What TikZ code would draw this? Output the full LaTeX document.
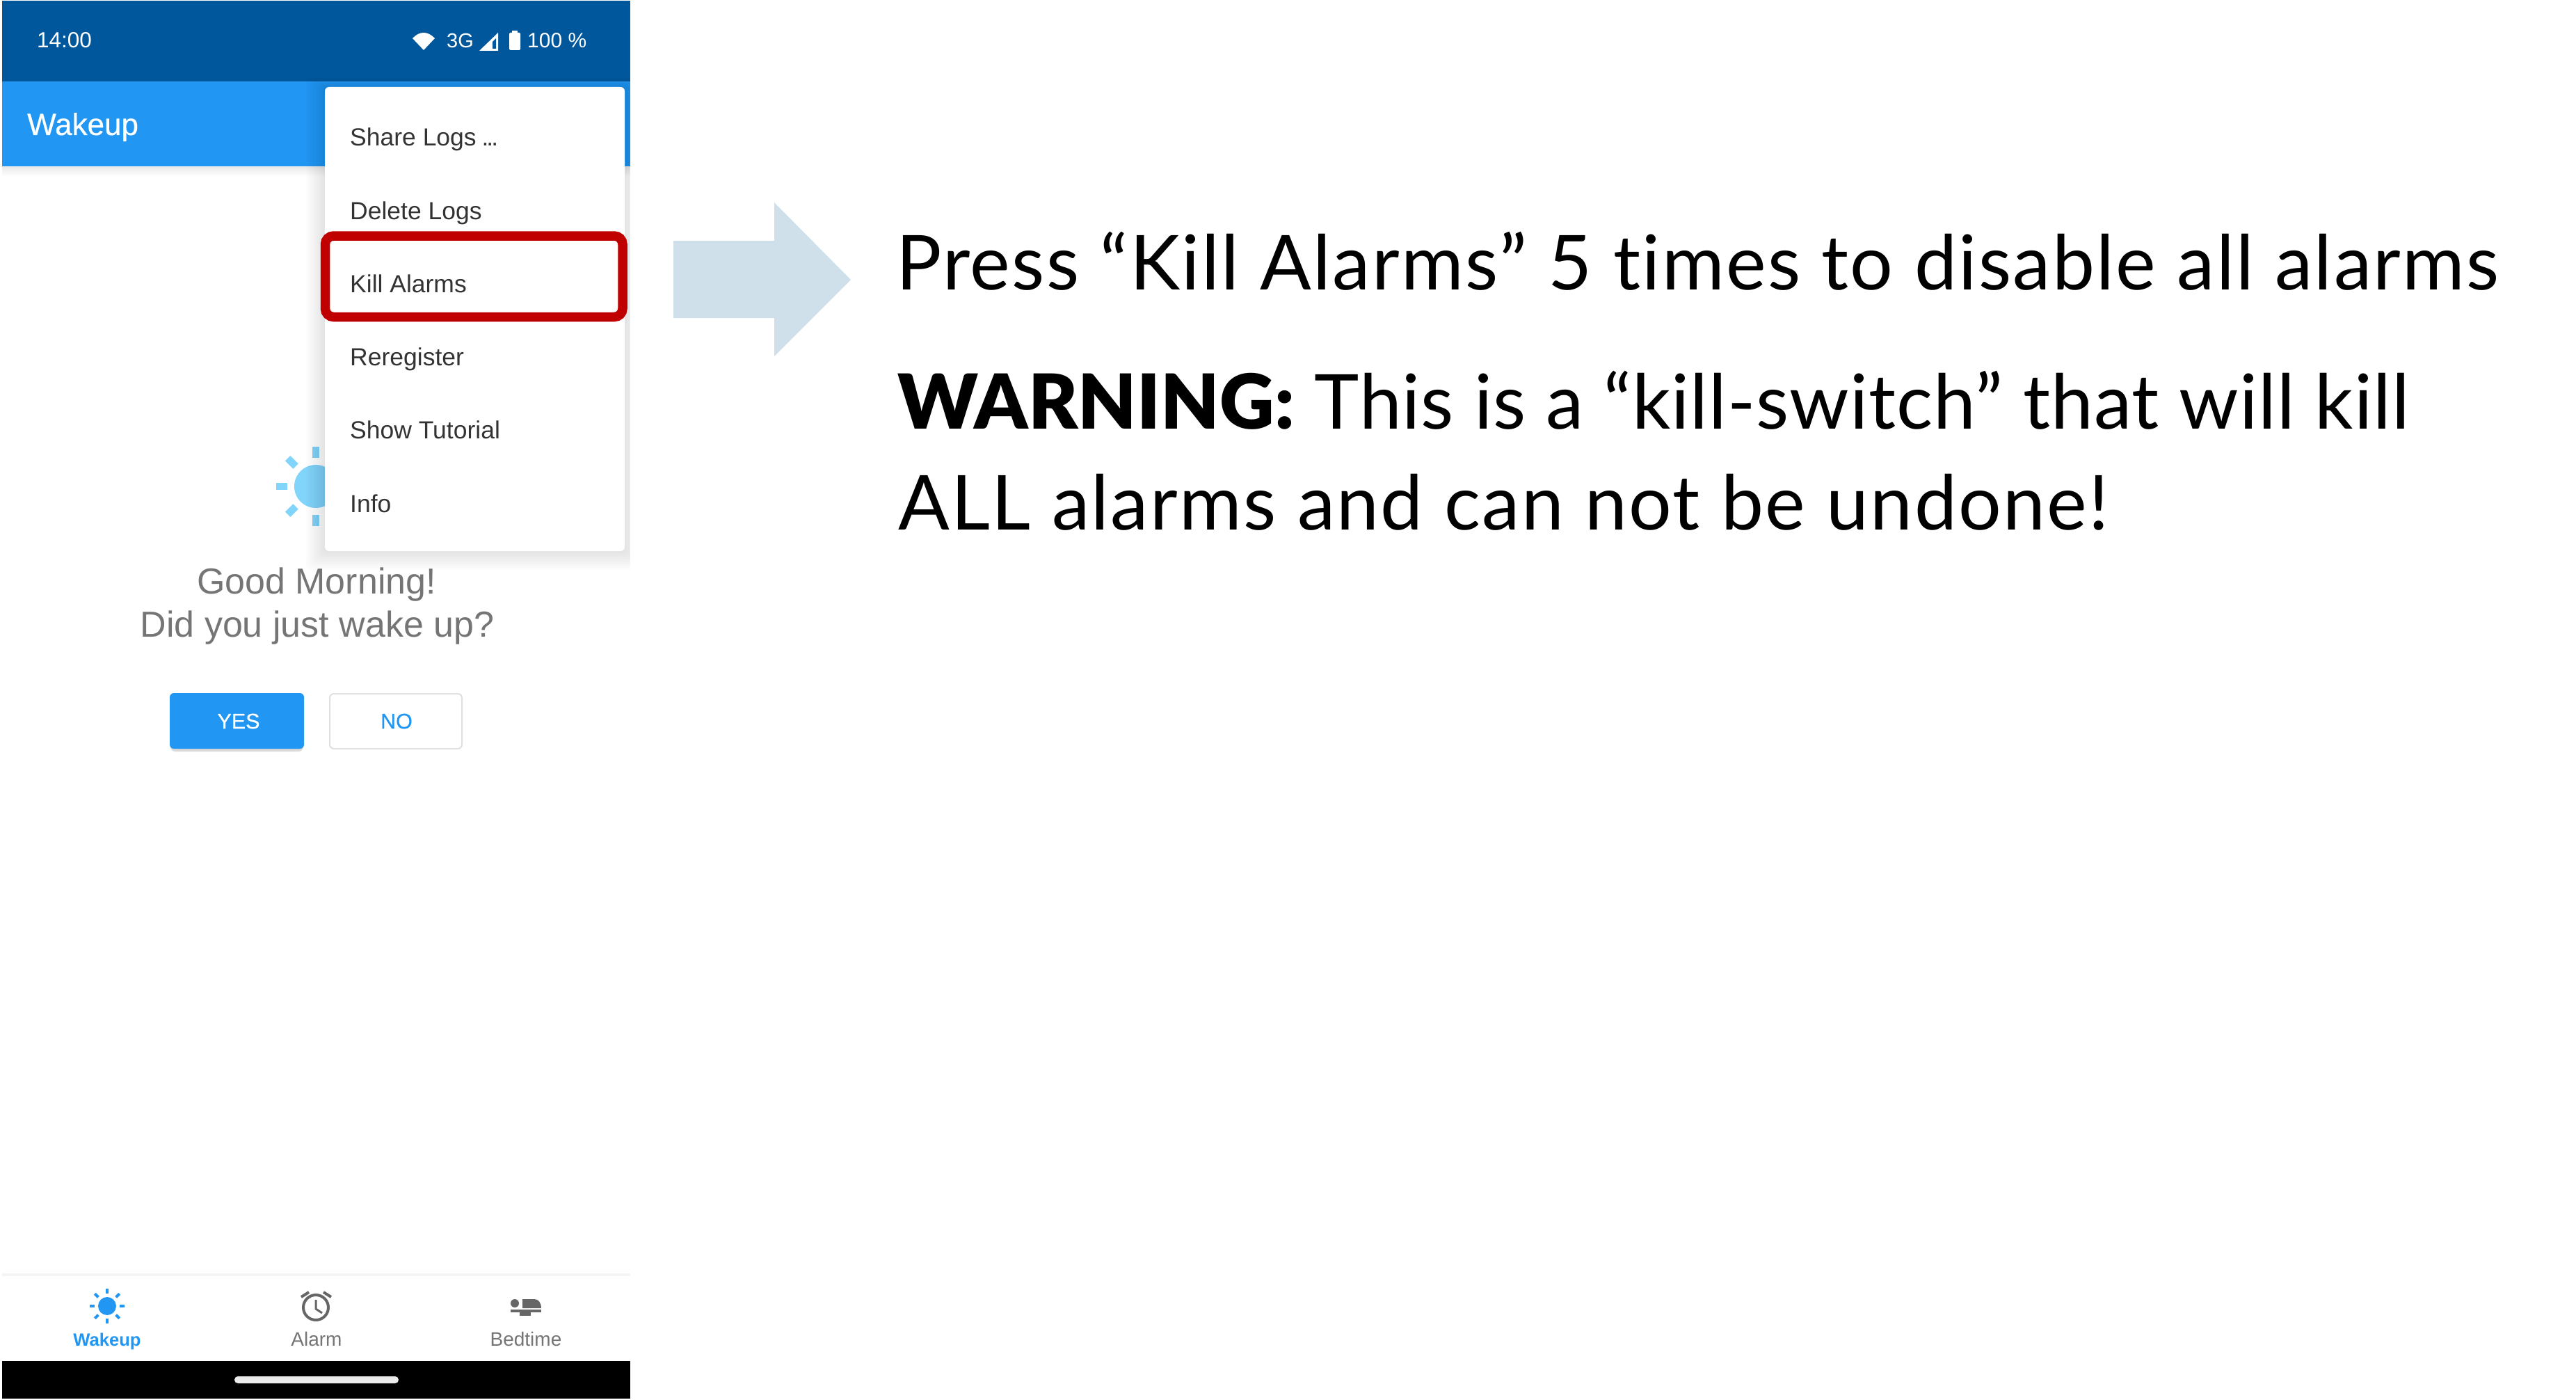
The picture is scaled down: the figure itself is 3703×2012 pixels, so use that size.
\documentclass[tikz,border=0pt]{standalone}
\usepackage{fontspec}
\setmainfont{Liberation Sans}
\newfontfamily\medfont[FakeBold=0.4]{Liberation Sans}
\newfontfamily\slidefont[Ligatures=NoCommon,LetterSpace=2.2]{Lato}
\newfontfamily\slidetight[Ligatures=NoCommon,LetterSpace=0.9]{Lato}
\newfontfamily\heavyfont{Lato Black}
\definecolor{statusblue}{HTML}{01579B}
\definecolor{barblue}{HTML}{2196F3}
\definecolor{sunblue}{HTML}{81D4FA}
\definecolor{arrowblue}{HTML}{CFE0EB}
\definecolor{killred}{HTML}{C00000}
\definecolor{greytext}{HTML}{757575}
\definecolor{greyicon}{HTML}{666666}
\definecolor{menutext}{HTML}{333333}
\tikzset{
  plain/.style={inner sep=0pt,anchor=base west},
  status/.style={plain,white,font=\fontsize{30}{36}\selectfont},
  menuitem/.style={plain,menutext,font=\fontsize{35.5}{42}\selectfont},
  greeting/.style={inner sep=0pt,anchor=base,greytext,font=\fontsize{52}{60}\selectfont},
  btnlabel/.style={inner sep=0pt,anchor=base,font=\medfont\fontsize{30.5}{36}\selectfont},
  navlabel/.style={inner sep=0pt,anchor=base,greytext,font=\fontsize{28}{32}\selectfont},
  slide/.style={plain,black,font=\slidefont\fontsize{109}{130}\selectfont},
}
\begin{document}
\begin{tikzpicture}[x=1pt,y=-1pt]
\useasboundingbox (0,0) rectangle (3703,2012);
\begin{scope}
\clip (3,1) rectangle (906,2010);
%bars
\fill[statusblue] (3,1) rectangle (906,117);
\fill[barblue] (3,117) rectangle (906,239);
\foreach \s in {2,4,...,14}
  \fill[black,opacity=0.012] (3,239) rectangle (906,239+\s);
%big sun
\fill[sunblue] (454,699) circle (31);
\foreach \a in {0,45,...,315}
  \draw[sunblue,line width=10.5pt,shift={(454,699)}] (\a:41) -- (\a:57);
%menu shadow
\foreach \s in {3,6,...,27}
  \fill[black,opacity=0.012,rounded corners=8] (467-\s,125-\s/2) rectangle (898+\s,792+\s);
\fill[white,rounded corners=6] (467,125) rectangle (898,792);
%bottom nav
\fill[black!4] (3,1830) rectangle (906,1834);
\fill[black] (3,1956) rectangle (906,2010);
\fill[white!92!black,rounded corners=5] (337,1978) rectangle (573,1988);
\end{scope}
%status icons
\node[status,font=\fontsize{31.5}{36}\selectfont] (clock) at (53,69) {14:00};
\fill[white] (609,72) -- (593,55) .. controls (598,50) and (603,47) .. (609,47) .. controls (615,47) and (620,50) .. (625,55) -- cycle;
\node[status,font=\fontsize{29}{36}\selectfont] (net) at (642,69) {3G};
\fill[white] (689,73) -- (716,73) -- (716,47) -- cycle;
\fill[statusblue] (708,70) -- (713,70) -- (713,55) -- (708,60) -- cycle;
\fill[white,rounded corners=1.5] (732,47) rectangle (748,72);
\fill[white] (736,44) rectangle (744,48);
\node[status] (battery) at (758,69) {100 \%};
\node[plain,white,font=\medfont\fontsize{44}{50}\selectfont] (title) at (39,194) {Wakeup};
%menu
\node[menuitem] (share) at (503,210) {Share Logs\kern-2pt\ .\kern-3pt.\kern-3pt.};
\node[menuitem] (delete) at (503,315) {Delete Logs};
\node[menuitem] (kill) at (503,420) {Kill Alarms};
\node[menuitem] (rereg) at (503,525) {Reregister};
\node[menuitem] (tutorial) at (503,630) {Show Tutorial};
\node[menuitem] (info) at (503,736) {Info};
\draw[killred,line width=13.5pt,rounded corners=12] (467.5,339) rectangle (895,455.5);
%greeting
\node[greeting] (morning) at (455,853) {Good Morning!};
\node[greeting] (wake) at (456,915) {Did you just wake up?};
%buttons
\fill[black,opacity=0.15,rounded corners=7] (245,1000) rectangle (436,1080);
\fill[barblue,rounded corners=6] (244,996) rectangle (437,1076);
\draw[black!12,line width=2pt,fill=white,rounded corners=6] (474,997) rectangle (664,1076);
\node[btnlabel,white] (yes) at (343,1047) {YES};
\node[btnlabel,barblue] (no) at (570,1047) {NO};
%nav icons
\fill[barblue] (154,1877) circle (13);
\foreach \a in {0,45,...,315}
  \draw[barblue,line width=4pt,shift={(154,1877)}] (\a:18) -- (\a:25);
\draw[greyicon,line width=4pt] (454,1879) circle (18);
\draw[greyicon,line width=3pt] (454,1868) -- (454,1881) -- (463,1887);
\draw[greyicon,line width=4pt] (433,1864) -- (444,1857);
\draw[greyicon,line width=4pt] (465,1857) -- (476,1864);
\fill[greyicon] (740,1873) circle (6);
\fill[greyicon] (751,1880) -- (751,1867) -- (768,1867) .. controls (774,1867) and (778,1872) .. (778,1880) -- cycle;
\fill[greyicon] (734,1882) rectangle (778,1886);
\fill[greyicon] (747,1886) rectangle (763,1891);
\node[navlabel,barblue,font=\bfseries\fontsize{25.6}{32}\selectfont] (navwake) at (154,1934) {Wakeup};
\node[navlabel] (navalarm) at (455,1934) {Alarm};
\node[navlabel] (navbed) at (756,1934) {Bedtime};
%arrow
\fill[arrowblue] (968,346) -- (1113,346) -- (1113,291) -- (1223,402) -- (1113,512) -- (1113,457) -- (968,457) -- cycle;
%slide text
\node[slide] (press) at (1288,416) {Press “Kill Alarms” 5 times to disable all alarms};
\node[slide] (warn) at (1290,616) {{\heavyfont WARNING:}{\slidetight\ This is a “kill-switch” that will kill}};
\node[slide] (undo) at (1291,761) {ALL alarms and can not be undone!};
\end{tikzpicture}
\end{document}
